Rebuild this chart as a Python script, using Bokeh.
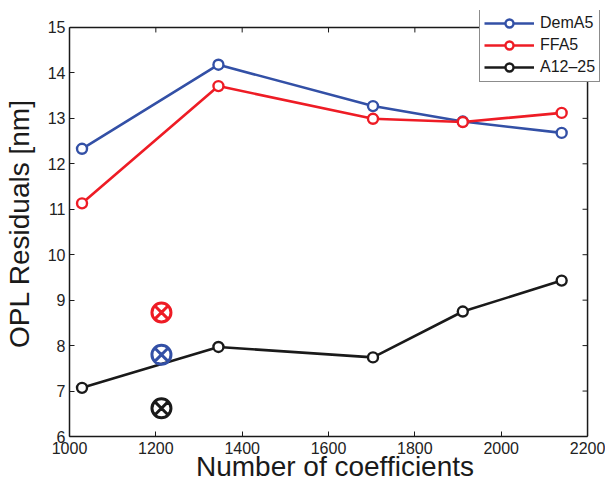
import math
from bokeh.plotting import figure
from bokeh.models import Legend, LegendItem, FixedTicker, Range1d
from bokeh.embed import file_html
from bokeh.resources import INLINE

# ---- data ----
coefficients = [1029, 1345, 1703, 1911, 2140]
dema5 = [12.33, 14.18, 13.27, 12.93, 12.68]
ffa5 = [11.13, 13.71, 12.99, 12.92, 13.12]
a12_25 = [7.07, 7.97, 7.74, 8.75, 9.43]

special_x = [1213, 1213, 1213]
special_y = [8.73, 7.80, 6.62]

x_ticks = [1000, 1200, 1400, 1600, 1800, 2000, 2200]
y_ticks = [6, 7, 8, 9, 10, 11, 12, 13, 14, 15]

series_names = ["DemA5", "FFA5", "A12\u201325"]
series_colors = ["#3350a6", "#ee1c25", "#1a1a1a"]

FONT = "Liberation Sans"
AX = "#1a1a1a"

X_MIN, X_MAX = x_ticks[0], x_ticks[-1]
Y_MIN, Y_MAX = y_ticks[0], y_ticks[-1]

# frame: box spans 520 x 410 px; the frame is extended a little to the
# right/top so the legend can overhang the box as in the reference
BOX_W, BOX_H = 520, 410
EXTRA_R, EXTRA_T = 13, 17
x_end = X_MAX + (X_MAX - X_MIN) * EXTRA_R / BOX_W
y_end = Y_MAX + (Y_MAX - Y_MIN) * EXTRA_T / BOX_H

p = figure(width=605, height=484, output_backend="svg", toolbar_location=None,
           x_range=Range1d(X_MIN, x_end), y_range=Range1d(Y_MIN, y_end),
           min_border_left=67, min_border_right=605 - 67 - BOX_W - EXTRA_R,
           min_border_top=27 - EXTRA_T, min_border_bottom=47)
p.xgrid.visible = False
p.ygrid.visible = False
p.background_fill_color = "white"
p.border_fill_color = "white"
p.outline_line_color = None

for ax, ticks, bounds in ((p.xaxis[0], x_ticks, (X_MIN, X_MAX)),
                          (p.yaxis[0], y_ticks, (Y_MIN, Y_MAX))):
    ax.ticker = FixedTicker(ticks=ticks)
    ax.bounds = bounds
    ax.major_tick_in = 5
    ax.major_tick_out = 0
    ax.minor_tick_line_color = None
    ax.axis_line_width = 1.5
    ax.axis_line_color = AX
    ax.major_tick_line_color = AX
    ax.major_tick_line_width = 1
    ax.major_label_text_font = FONT
    ax.major_label_text_font_size = "16px"
    ax.major_label_text_color = "#222222"
    ax.major_label_standoff = 4
    ax.axis_label_text_font = FONT
    ax.axis_label_text_font_size = "28px"
    ax.axis_label_text_font_style = "normal"
    ax.axis_label_text_color = AX

p.xaxis[0].major_label_standoff = 5
p.xaxis[0].axis_label = "Number of coefficients"
p.xaxis[0].axis_label_standoff = -6
p.yaxis[0].axis_label = "OPL Residuals [nm]"
p.yaxis[0].axis_label_standoff = 10

# top and right box edges with inward ticks
p.segment(x0=[X_MIN], y0=[Y_MAX], x1=[X_MAX], y1=[Y_MAX], line_color=AX, line_width=1.5)
p.segment(x0=[X_MAX], y0=[Y_MIN], x1=[X_MAX], y1=[Y_MAX], line_color=AX, line_width=1.5)
p.ray(x=x_ticks, y=[Y_MAX] * len(x_ticks), length=5, length_units="screen",
      angle=-math.pi / 2, line_color=AX, line_width=1)
p.ray(x=[X_MAX] * len(y_ticks), y=y_ticks, length=5, length_units="screen",
      angle=math.pi, line_color=AX, line_width=1)

items = []
for name, ys, col in zip(series_names, [dema5, ffa5, a12_25], series_colors):
    ln = p.line(coefficients, ys, line_color=col, line_width=2.6)
    sc = p.scatter(coefficients, ys, marker="circle", size=10, fill_color="white",
                   line_color=col, line_width=2.4)
    items.append(LegendItem(label=name, renderers=[ln, sc]))

p.scatter(special_x, special_y, marker="circle_x", size=19, fill_color=None,
          line_color=[series_colors[1], series_colors[0], series_colors[2]], line_width=3)

legend = Legend(items=items, location=(410, 354))
legend.label_text_font = FONT
legend.label_text_font_size = "16px"
legend.label_text_color = AX
legend.glyph_width = 50
legend.glyph_height = 20
legend.label_height = 20
legend.label_standoff = 6
legend.spacing = 2
legend.padding = 4
legend.margin = 0
legend.border_line_color = AX
legend.border_line_width = 1
legend.background_fill_color = "white"
legend.background_fill_alpha = 1
p.add_layout(legend)

open("out.html", "w").write(file_html(p, INLINE))
